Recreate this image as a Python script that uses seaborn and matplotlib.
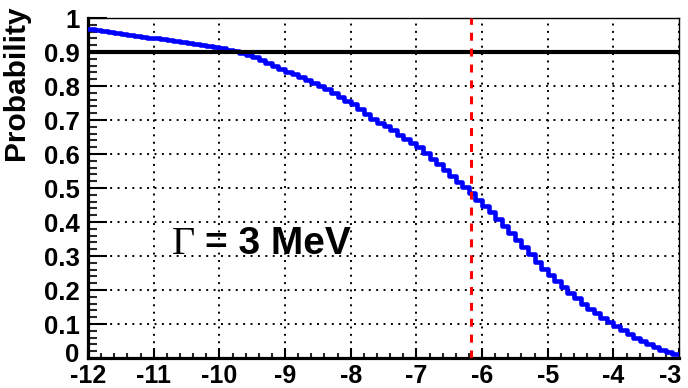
import numpy as np
import pandas as pd
import matplotlib
matplotlib.use("Agg")
import matplotlib.pyplot as plt
import matplotlib.transforms as mtransforms
from matplotlib.ticker import MultipleLocator, FixedLocator
import seaborn as sns

# ---------------- data ----------------
bin_start = -12.0
bin_width = 0.1
probability = [
    0.967, 0.964, 0.961, 0.958, 0.955, 0.952, 0.950, 0.947, 0.945, 0.942,
    0.940, 0.937, 0.935, 0.932, 0.929, 0.926, 0.923, 0.920, 0.917, 0.914,
    0.911, 0.907, 0.902, 0.896, 0.890, 0.884, 0.877, 0.869, 0.860, 0.850,
    0.842, 0.834, 0.826, 0.817, 0.808, 0.799, 0.790, 0.780, 0.769, 0.757,
    0.746, 0.733, 0.718, 0.703, 0.692, 0.681, 0.670, 0.657, 0.645, 0.632,
    0.620, 0.602, 0.585, 0.570, 0.554, 0.536, 0.518, 0.502, 0.484, 0.464,
    0.446, 0.428, 0.409, 0.388, 0.367, 0.346, 0.326, 0.306, 0.282, 0.262,
    0.244, 0.227, 0.210, 0.192, 0.176, 0.160, 0.145, 0.131, 0.118, 0.105,
    0.093, 0.082, 0.071, 0.060, 0.050, 0.041, 0.032, 0.024, 0.017, 0.011,
]
threshold = 0.9
limit_x = -6.17
x_ticks = [-12, -11, -10, -9, -8, -7, -6, -5, -4, -3]
x_tick_labels = ["-12", "-11", "-10", "-9", "-8", "-7", "-6", "-5", "-4", "-3"]
y_ticks = [0, 0.1, 0.2, 0.3, 0.4, 0.5, 0.6, 0.7, 0.8, 0.9, 1.0]
y_tick_labels = ["0", "0.1", "0.2", "0.3", "0.4", "0.5", "0.6", "0.7", "0.8", "0.9", "1"]
y_label = "Probability"
annot_greek = "Γ"
annot_text = "= 3 MeV"

# ---------------- style ----------------
sns.set_style("ticks")
plt.rcParams["font.family"] = ["Liberation Sans", "DejaVu Sans"]

edges = bin_start + bin_width * np.arange(len(probability) + 1)
df = pd.DataFrame({"x": edges, "p": probability + [probability[-1]]})

fig = plt.figure(figsize=(6.88, 3.88), dpi=100)
ax = fig.add_axes([0.128, 0.0773, 0.859, 0.8763])

# grid
ax.set_axisbelow(True)
ax.grid(True, which="major", color="black", linestyle=(0, (1, 2.8)), linewidth=1.4)

sns.lineplot(data=df, x="x", y="p", drawstyle="steps-post", estimator=None,
             sort=False, color="#0000ff", linewidth=3.3, ax=ax, zorder=3)

ax.plot([x_ticks[0], x_ticks[-1]], [threshold, threshold], color="black",
        linewidth=3.0, solid_capstyle="butt", zorder=4)
ax.plot([limit_x, limit_x], [0, 1.0], color="#ff0000", linewidth=2.2,
        linestyle=(0, (2.6, 2.6)), zorder=5)

ax.set_xlim(x_ticks[0], x_ticks[-1])
ax.set_ylim(0, 1.0)
ax.xaxis.set_major_locator(FixedLocator(x_ticks))
ax.yaxis.set_major_locator(FixedLocator(y_ticks))
ax.xaxis.set_minor_locator(MultipleLocator(0.2))
ax.yaxis.set_minor_locator(MultipleLocator(0.02))
ax.set_xticklabels(x_tick_labels)
ax.set_yticklabels(y_tick_labels)

ax.tick_params(axis="x", which="major", direction="in", length=7.5, width=1.5,
               pad=4, labelsize=18, colors="black")
ax.tick_params(axis="x", which="minor", direction="in", length=3.5, width=1.5)
ax.tick_params(axis="y", which="major", direction="in", length=14, width=1.5,
               pad=6, labelsize=18.5, colors="black")
ax.tick_params(axis="y", which="minor", direction="in", length=6.5, width=1.5)
for lab in ax.get_xticklabels() + ax.get_yticklabels():
    lab.set_fontweight("bold")

# keep the last x label inside the figure, like the reference
last = ax.get_xticklabels()[-1]
last.set_transform(last.get_transform() +
                   mtransforms.ScaledTranslation(-9 / 100, 0, fig.dpi_scale_trans))
# nudge the y "0" label up so it does not touch "-12"
zero = ax.get_yticklabels()[0]
zero.set_transform(zero.get_transform() +
                   mtransforms.ScaledTranslation(0, 6 / 100, fig.dpi_scale_trans))

for s in ["left", "bottom"]:
    ax.spines[s].set_linewidth(2.3)
    ax.spines[s].set_color("black")
for s in ["top", "right"]:
    ax.spines[s].set_visible(True)
    ax.spines[s].set_linewidth(1.0)
    ax.spines[s].set_color("black")

ax.set_xlabel("")
ax.set_ylabel(y_label, fontsize=21.5, fontweight="bold", color="black")
ax.yaxis.set_label_coords(-0.098, 0.81)

ax.text(-10.72, 0.305, annot_greek, fontsize=29, family=["Liberation Serif", "DejaVu Serif"],
        ha="left", va="baseline", color="black", zorder=6)
ax.text(-10.22, 0.305, annot_text, fontsize=28, fontweight="bold",
        ha="left", va="baseline", color="black", zorder=6)

fig.savefig("out.png", dpi=100)
